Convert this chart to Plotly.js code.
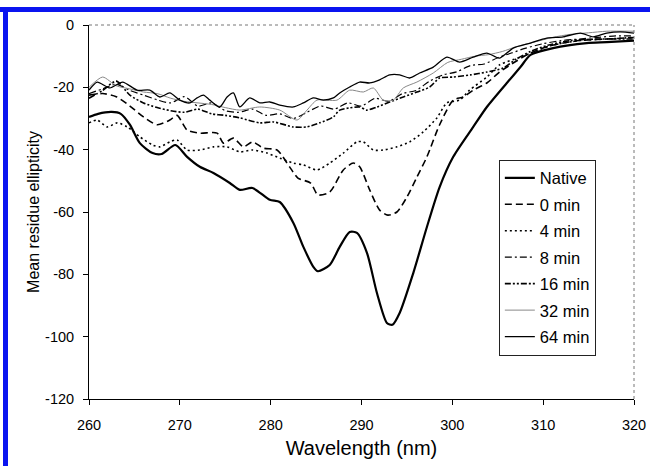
<!DOCTYPE html>
<html>
<head>
<meta charset="utf-8">
<script src="https://cdn.plot.ly/plotly-3.0.1.min.js"></script>
<style>
  html, body { margin: 0; padding: 0; background: #fff; }
  #wrap { position: relative; width: 650px; height: 466px; overflow: hidden; }
  #chart { position: absolute; left: 0; top: 0; width: 650px; height: 466px; }
  .bar { position: absolute; background: #0a14f0; }
</style>
</head>
<body>
<div id="wrap">
  <div id="chart"></div>
  <div class="bar" style="left:0; top:7px; width:650px; height:5px;"></div>
  <div class="bar" style="left:3px; top:7px; width:5px; height:459px;"></div>
</div>
<script>
// Series names (legend order)
const seriesNames = ["Native", "0 min", "4 min", "8 min", "16 min", "32 min", "64 min"];

// Native
const xNative = [260, 261, 262.5, 263.5, 264.5, 265.6, 267, 268, 269.5, 270.8, 272.2, 273.7, 275.5, 276.6, 278, 279.9, 281, 282.5, 283.6, 284.7, 285.2, 286.5, 287.6, 288.7, 289.5, 290.6, 291.7, 292.8, 293.4, 294.2, 295.7, 297.2, 298.6, 300.1, 302.3, 303.8, 306, 307.5, 308.6, 311.1, 314.8, 317, 320];
const yNative = [-29.5, -28.5, -27.9, -28.5, -32, -37.9, -41.1, -41.4, -38.5, -42.3, -45.5, -47.5, -50.7, -52.9, -52.3, -56.1, -56.8, -63.5, -71.2, -77.6, -79, -77, -71.2, -66.4, -66.7, -73.1, -86, -95.6, -96.2, -92.4, -79.6, -64.8, -52, -42.3, -32.7, -26.3, -18.6, -13.5, -9.6, -7.4, -5.8, -5.5, -5];

// 0 min
const x0 = [260, 261.5, 263, 264.5, 266, 267.5, 268.9, 269.7, 270.8, 272.2, 274.1, 274.8, 275.9, 277, 278, 279.2, 280.7, 282.1, 283, 284.4, 285.2, 286.5, 288, 289.1, 289.8, 290.9, 292, 292.9, 293.9, 295, 296.1, 297.2, 298.6, 300.1, 301.2, 302.3, 303.8, 305.2, 306.7, 308.6, 311, 314, 317, 320];
const y0 = [-22.5, -22, -23, -26, -29.5, -32, -30.5, -29, -33.7, -34.7, -34.7, -37.9, -36.3, -39.1, -37.5, -39.5, -40.1, -45.6, -49.1, -50.7, -54.5, -53.6, -46.5, -44.3, -45.5, -52.9, -59.4, -61, -60, -55.2, -48.8, -42.3, -32, -24.1, -23.1, -20.9, -18.6, -15.1, -12.2, -9, -6.5, -5, -4.5, -4];

// 4 min
const x4 = [260, 260.9, 262, 263.1, 264.2, 265.6, 267, 267.8, 268.9, 269.7, 270.8, 272.2, 273.7, 275.2, 276.6, 278, 279.6, 281, 282.5, 283.6, 285.1, 286.5, 288, 289.5, 290.2, 291.3, 292.4, 293.9, 295.3, 296.8, 298.3, 299.4, 300.8, 301.9, 303.8, 305.2, 307.5, 308.9, 311, 314, 317, 320];
const y4 = [-31.4, -30.5, -32.7, -31.4, -32.7, -35.9, -38.5, -39.1, -37.5, -36.9, -40.1, -40.1, -39.1, -39.1, -40.7, -40.1, -41.1, -42.7, -44.3, -44.9, -46.5, -44.3, -41.1, -37.5, -37.5, -40.1, -40.1, -39.1, -37.5, -34.3, -29.8, -25, -24.1, -20.9, -16.7, -12.8, -10.3, -8.7, -6.5, -5, -4.5, -4];

// 8 min
const x8 = [260, 261.5, 263, 264.5, 266, 267.5, 269, 270.5, 272, 273.5, 275, 276.5, 278, 279.5, 281, 282.5, 284, 285.5, 287, 288.5, 290, 291.5, 293, 294.5, 296, 297.5, 299, 300.5, 302, 303.5, 305, 306.5, 308, 310, 312, 314, 316, 318, 320];
const y8 = [-22, -20.5, -19, -21, -22.5, -24, -25, -23, -26, -25, -27.5, -28, -27, -29, -28.5, -30, -28, -26, -27, -25, -26, -23.5, -24.5, -22, -21, -18, -16, -15, -13, -12.5, -10.5, -9, -7.5, -6, -5, -4.5, -4, -3.5, -3.5];

// 16 min
const x16 = [260, 261.5, 263, 264.5, 266, 267.5, 269, 270.5, 272, 273.5, 275, 276.6, 278.8, 280.3, 282.5, 284, 285.4, 286.9, 287.6, 288.7, 289.8, 290.6, 291.7, 293.1, 294.6, 296.1, 297.5, 298.6, 300.1, 302, 303.8, 305.6, 307, 308.6, 310.5, 313, 316, 320];
const y16 = [-23.5, -21, -18, -22.5, -25, -26.5, -27.5, -28, -27, -28.5, -29, -29.8, -31.4, -31.1, -32.7, -32.7, -31.4, -29.5, -27.3, -26.6, -26.3, -27.3, -26.3, -24.7, -23.1, -21.5, -19.9, -17, -16.7, -16, -15.1, -13.8, -11, -8.5, -6.5, -5, -4.5, -4.5];

// 32 min
const x32 = [260, 261.5, 263, 264.5, 266, 267.5, 269, 270.5, 272, 273.5, 275, 276.6, 278.8, 281, 282.9, 284, 285.1, 287.3, 288.7, 290.2, 291.3, 292.4, 293.5, 294.6, 296.1, 297.9, 299.5, 301, 302.5, 304, 305.5, 307, 309, 311, 313, 315, 317, 320];
const y32 = [-20, -16.7, -19.5, -20.5, -21.5, -22, -23.5, -24.5, -25, -25.5, -26.5, -27.3, -26.3, -27.3, -30.5, -27.3, -24.1, -24.1, -20.9, -21.5, -20.2, -24.1, -24.1, -20.2, -18.3, -15.4, -12, -11, -10, -9.5, -8.5, -7, -5.5, -4, -3, -2.5, -2, -2];

// 64 min
const x64 = [260, 260.9, 262.3, 263.7, 265.3, 266.7, 267.8, 268.9, 270, 271.1, 271.9, 272.6, 273.3, 274.4, 275.2, 275.9, 276.6, 277.7, 278.8, 279.9, 281, 282.5, 283.6, 284.7, 285.8, 286.9, 287.6, 288.7, 289.8, 290.9, 292, 293.1, 294.2, 295.3, 296.4, 297.9, 299.4, 300.8, 302.3, 303.8, 305.2, 306.7, 308.6, 310.4, 312.2, 314.1, 315.5, 317, 318.5, 320];
const y64 = [-20.9, -18.3, -20.2, -18.3, -20.9, -20.9, -23.1, -21.8, -24.1, -25, -23.4, -22.5, -24.1, -26.3, -23.1, -21.8, -26.3, -23.4, -25, -24.7, -25.7, -26.3, -25, -23.4, -24.1, -23.4, -21.8, -19.9, -18.3, -18.6, -17.6, -16, -16, -17, -15.4, -13.5, -10.3, -11.9, -10.3, -9, -10.6, -7.4, -5.8, -4.2, -3.8, -2.6, -3.8, -2.6, -2.2, -2.6];

// Axis ticks
const xTicks = [260, 270, 280, 290, 300, 310, 320];
const yTicks = [0, -20, -40, -60, -80, -100, -120];

const xs = [xNative, x0, x4, x8, x16, x32, x64];
const ys = [yNative, y0, y4, y8, y16, y32, y64];
const styles = [
  {color: "#000", width: 2.2, dash: "solid"},
  {color: "#000", width: 1.6, dash: "7px,4px"},
  {color: "#000", width: 1.6, dash: "2px,3px"},
  {color: "#000", width: 1.2, dash: "7px,3px,2px,3px"},
  {color: "#000", width: 1.6, dash: "6px,2px,2px,2px,2px,2px"},
  {color: "#888", width: 1.0, dash: "solid"},
  {color: "#000", width: 1.3, dash: "solid"}
];

const traces = seriesNames.map((n, i) => ({
  type: "scatter", mode: "lines", name: n,
  x: xs[i], y: ys[i],
  line: Object.assign({shape: "spline", smoothing: 0.7}, styles[i]),
  legendgroup: "g" + i
}));

const font = "Arial, 'Liberation Sans', sans-serif";
const layout = {
  width: 650, height: 466,
  margin: {l: 89, r: 16, t: 25, b: 67},
  paper_bgcolor: "#fff", plot_bgcolor: "#fff",
  font: {family: font, color: "#000", size: 14},
  showlegend: true,
  legend: {
    x: 0.752, y: 0.64, xanchor: "left", yanchor: "top",
    bgcolor: "#fff", bordercolor: "#222", borderwidth: 1,
    font: {family: font, size: 16.5, color: "#000"},
    itemwidth: 30, traceorder: "grouped", tracegroupgap: 2
  },
  xaxis: {
    range: [260, 320], tickvals: xTicks, ticktext: xTicks.map(String),
    showgrid: false, zeroline: false, showline: true, linecolor: "#000", linewidth: 1,
    ticks: "outside", ticklen: 5, tickcolor: "#000", ticklabelstandoff: 8,
    tickfont: {family: font, size: 14.5},
    title: {text: "Wavelength (nm)", font: {family: font, size: 20}, standoff: 8}
  },
  yaxis: {
    range: [-120, 0], tickvals: yTicks, ticktext: yTicks.map(String),
    showgrid: false, zeroline: false, showline: true, linecolor: "#000", linewidth: 1,
    ticks: "outside", ticklen: 5, tickcolor: "#000", ticklabelstandoff: 6,
    tickfont: {family: font, size: 14.5},
    title: {text: "Mean residue ellipticity", font: {family: font, size: 16}, standoff: 1}
  },
  shapes: [
    {type: "line", xref: "paper", yref: "paper", x0: 0, x1: 1, y0: 1, y1: 1, line: {color: "#777", width: 1, dash: "dot"}},
    {type: "line", xref: "paper", yref: "paper", x0: 1, x1: 1, y0: 0, y1: 1, line: {color: "#777", width: 1, dash: "dot"}}
  ]
};

Plotly.newPlot("chart", traces, layout, {staticPlot: true, displayModeBar: false});
</script>
</body>
</html>
